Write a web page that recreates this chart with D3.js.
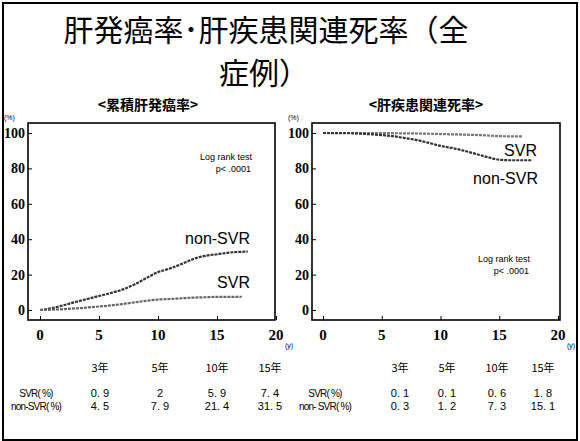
<!DOCTYPE html>
<html>
<head>
<meta charset="utf-8">
<script src="https://cdn.jsdelivr.net/npm/d3@7"></script>
<style>
  body { margin: 0; background: #fff; }
  text { fill: #000; }
</style>
</head>
<body>
<svg id="chart" width="580" height="441"></svg>
<script>
// data
var years = [0, 5, 10, 15, 20];
var yTicks = [0, 20, 40, 60, 80, 100];
var tableHeads = ["3年", "5年", "10年", "15年"];

var hccSVR = [[0,0],[1,0.2],[2,0.5],[3,0.9],[4,1.4],[5,2],[6,2.6],[7,3.4],[8,4.3],[9,5.2],[10,5.9],[11,6.2],[12,6.6],[13,7],[14,7.2],[15,7.4],[16,7.4],[17.1,7.5]];
var hccNon = [[0,0],[1,1],[2,2.7],[3,4.5],[4,6.2],[5,7.9],[6,9.6],[7,11.6],[8,14.4],[9,18],[10,21.4],[11,23.4],[12,26],[13,28.8],[14,30.6],[15,31.5],[16,32.4],[17.6,33]];
var deathSVR = [[0,100],[2,100],[4,99.9],[5,99.9],[7,99.8],[9,99.6],[10,99.4],[12,99.1],[14,98.6],[15,98.2],[17,98.1]];
var deathNon = [[0,100],[2,99.9],[3,99.7],[4,99.3],[5,98.8],[6,98.2],[7,97.1],[8,96],[9,94.4],[10,92.7],[11,91.5],[12,90],[13,88.2],[14,86.4],[15,84.9],[16,84.6],[17.8,84.6]];

var hccTableSVR = ["0. 9", "2", "5. 9", "7. 4"];
var hccTableNon = ["4. 5", "7. 9", "21. 4", "31. 5"];
var deathTableSVR = ["0. 1", "0. 1", "0. 6", "1. 8"];
var deathTableNon = ["0. 3", "1. 2", "7. 3", "15. 1"];

var svg = d3.select("#chart");
var jp = "'Noto Sans CJK JP', sans-serif";

// outer frame of the slide
svg.append("rect")
    .attr("x", 3).attr("y", 3).attr("width", 574).attr("height", 437)
    .attr("fill", "none").attr("stroke", "#000").attr("stroke-width", 2);

// title
svg.append("text").attr("x", 266).attr("y", 41)
    .attr("text-anchor", "middle").style("font-family", jp)
    .style("font-size", "30px").text("肝発癌率･肝疾患関連死率（全");
svg.append("text").attr("x", 264).attr("y", 84)
    .attr("text-anchor", "middle").style("font-family", jp)
    .style("font-size", "30px").text("症例）");

function panel(opt) {
    var g = svg.append("g");
    var x = d3.scaleLinear().domain([0, 20]).range([opt.x0, opt.x20]);
    var y = d3.scaleLinear().domain([0, 100]).range([310, 133]);

    g.append("text").attr("x", opt.titleX).attr("y", 110)
        .attr("text-anchor", "middle").style("font-family", jp)
        .style("font-size", "14px").style("font-weight", "bold").text(opt.title);

    // plot frame
    g.append("rect")
        .attr("x", opt.left).attr("y", 123)
        .attr("width", opt.right - opt.left).attr("height", 197)
        .attr("fill", "none").attr("stroke", "#000").attr("stroke-width", 1.6);

    // axes, ticks pointing into the plot
    var ya = g.append("g").attr("transform", "translate(" + opt.left + ",0)")
        .call(d3.axisRight(y).tickValues(yTicks).tickSize(4).tickFormat(""));
    ya.select(".domain").remove();
    var xa = g.append("g").attr("transform", "translate(0,320)")
        .call(d3.axisTop(x).tickValues(years).tickSize(4).tickFormat(""));
    xa.select(".domain").remove();

    g.selectAll(".ylab").data(yTicks).enter().append("text")
        .attr("x", opt.left - 3).attr("y", function(d){ return y(d) + 5; })
        .attr("text-anchor", "end")
        .style("font-family", "'Liberation Serif', serif").style("font-weight", "bold")
        .style("font-size", "14px").text(function(d){ return d; });

    g.selectAll(".xlab").data(years).enter().append("text")
        .attr("x", function(d){ return x(d); }).attr("y", 340)
        .attr("text-anchor", "middle")
        .style("font-family", "'Liberation Serif', serif").style("font-weight", "bold")
        .style("font-size", "15px").text(function(d){ return d; });

    g.append("text").attr("x", opt.left - 24).attr("y", 120)
        .style("font-family", "Arial, sans-serif").style("font-size", "7px").text("(%)");
    g.append("text").attr("x", x(20) + 9).attr("y", 348)
        .style("font-family", "Arial, sans-serif").style("font-size", "7px").text("(y)");

    var line = d3.line()
        .x(function(d){ return x(d[0]); })
        .y(function(d){ return y(d[1]); })
        .curve(d3.curveMonotoneX);

    opt.series.forEach(function(s) {
        g.append("path").datum(s.data)
            .attr("d", line).attr("fill", "none")
            .attr("stroke", s.color).attr("stroke-width", 2.2)
            .attr("stroke-dasharray", "3,1");
    });

    opt.labels.forEach(function(l) {
        g.append("text").attr("x", l.x).attr("y", l.y)
            .attr("text-anchor", "end")
            .style("font-family", "'Liberation Sans', Arial, sans-serif")
            .style("font-size", l.size + "px").text(l.t);
    });

    // table below
    g.selectAll(".th").data(tableHeads).enter().append("text")
        .attr("x", function(d, i){ return opt.cols[i]; }).attr("y", 372)
        .attr("text-anchor", "middle").style("font-family", jp)
        .style("font-size", "11px").text(function(d){ return d; });
    [opt.row1, opt.row2].forEach(function(row, r) {
        g.selectAll(".td" + r).data(row).enter().append("text")
            .attr("x", function(d, i){ return opt.cols[i]; }).attr("y", 397 + r * 13)
            .attr("text-anchor", "middle")
            .style("font-family", "'Liberation Sans', Arial, sans-serif")
            .style("font-size", "11px").text(function(d){ return d; });
    });
    g.append("text").attr("x", opt.rowLabelX).attr("y", 397)
        .attr("text-anchor", "middle")
        .style("font-family", "'Liberation Sans', Arial, sans-serif")
        .style("font-size", "10px").style("letter-spacing", "-0.8px").text("SVR( %)");
    g.append("text").attr("x", opt.rowLabelX).attr("y", 410)
        .attr("text-anchor", "middle")
        .style("font-family", "'Liberation Sans', Arial, sans-serif")
        .style("font-size", "10px").style("letter-spacing", "-0.8px").text(opt.nonLabel);
}

panel({
    title: "<累積肝発癌率>", titleX: 148,
    left: 28, right: 275, x0: 40, x20: 276,
    series: [{data: hccNon, color: "#333"}, {data: hccSVR, color: "#666"}],
    labels: [
        {t: "Log rank test", x: 252, y: 160, size: 9},
        {t: "p< .0001", x: 251, y: 172, size: 9},
        {t: "non-SVR", x: 250, y: 244, size: 16},
        {t: "SVR", x: 250, y: 288, size: 16}
    ],
    cols: [100, 160, 217, 270], rowLabelX: 36,
    row1: hccTableSVR, row2: hccTableNon, nonLabel: "non-SVR( %)"
});

panel({
    title: "<肝疾患関連死率>", titleX: 426,
    left: 312, right: 560, x0: 323, x20: 558,
    series: [{data: deathSVR, color: "#777"}, {data: deathNon, color: "#333"}],
    labels: [
        {t: "Log rank test", x: 530, y: 262, size: 9},
        {t: "p< .0001", x: 529, y: 274, size: 9},
        {t: "SVR", x: 537, y: 156, size: 16},
        {t: "non-SVR", x: 538, y: 184, size: 16}
    ],
    cols: [400, 447, 497, 543], rowLabelX: 325,
    row1: deathTableSVR, row2: deathTableNon, nonLabel: "non- SVR( %)"
});
</script>
</body>
</html>
